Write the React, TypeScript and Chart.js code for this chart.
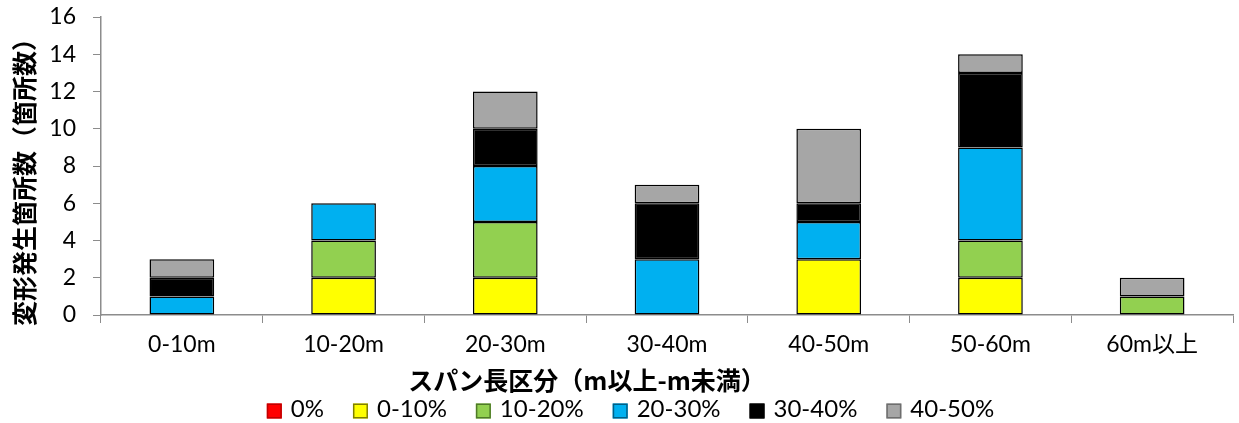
import React, { useEffect, useRef } from "react";
import { Chart, registerables } from "chart.js";

Chart.register(...registerables);

const categories = ["0-10m", "10-20m", "20-30m", "30-40m", "40-50m", "50-60m", "60m以上"];
const seriesNames = ["0%", "0-10%", "10-20%", "20-30%", "30-40%", "40-50%"];
const s0 = [0, 0, 0, 0, 0, 0, 0];
const s0to10 = [0, 2, 2, 0, 3, 2, 0];
const s10to20 = [0, 2, 3, 0, 0, 2, 1];
const s20to30 = [1, 2, 3, 3, 2, 5, 0];
const s30to40 = [1, 0, 2, 3, 1, 4, 0];
const s40to50 = [1, 0, 2, 1, 4, 1, 1];
const seriesColors = ["#FF0000", "#FFFF00", "#92D050", "#00B0F0", "#000000", "#A6A6A6"];
const legendBorders = ["#C00000", "#7F7F00", "#4F7A28", "#005F86", "#000000", "#6E6E6E"];
const yTitle = "変形発生箇所数（箇所数）";
const xTitle = "スパン長区分（m以上-m未満）";

const W = 1239;
const H = 423;
const FONT = 'Lato, "Noto Sans CJK JP", sans-serif';
const CJK = '"Noto Sans CJK JP", sans-serif';

const titlesAndLegend = {
  id: "titlesAndLegend",
  afterDraw(chart: any) {
    const ctx = chart.ctx as CanvasRenderingContext2D;
    const area = chart.chartArea;
    ctx.save();
    ctx.fillStyle = "#000";

    // Y axis title (rotated)
    ctx.font = `bold 25px ${CJK}`;
    ctx.textAlign = "center";
    ctx.textBaseline = "middle";
    ctx.save();
    ctx.translate(24, (area.top + area.bottom) / 2 + 10);
    ctx.rotate(-Math.PI / 2);
    ctx.fillText(yTitle, 0, 0);
    ctx.restore();

    // X axis title
    ctx.font = `bold 25px ${CJK}`;
    ctx.fillText(xTitle, (area.left + area.right) / 2 - 80, 380);

    // Legend
    ctx.font = `24px ${FONT}`;
    ctx.textAlign = "left";
    const box = 15;
    const gapBoxText = 9;
    const gapItems = 29;
    const widths = chart.data.datasets.map((d: any) => box + gapBoxText + ctx.measureText(d.label).width);
    const total = widths.reduce((a: number, b: number) => a + b, 0) + gapItems * (widths.length - 1);
    let x = W / 2 + 11 - total / 2;
    const cy = 411;
    chart.data.datasets.forEach((d: any, i: number) => {
      ctx.fillStyle = d.backgroundColor;
      ctx.fillRect(x, cy - box / 2, box, box);
      ctx.strokeStyle = legendBorders[i];
      ctx.lineWidth = 1.5;
      ctx.strokeRect(x + 0.75, cy - box / 2 + 0.75, box - 1.5, box - 1.5);
      ctx.fillStyle = "#000";
      ctx.fillText(d.label, x + box + gapBoxText, cy - 2);
      x += widths[i] + gapItems;
    });
    ctx.restore();
  },
};

export default function App() {
  const canvasRef = useRef<HTMLCanvasElement>(null);

  useEffect(() => {
    const values = [s0, s0to10, s10to20, s20to30, s30to40, s40to50];
    const chart = new Chart(canvasRef.current!, {
      type: "bar",
      data: {
        labels: categories,
        datasets: seriesNames.map((name, i) => ({
          label: name,
          data: values[i],
          backgroundColor: seriesColors[i],
          borderColor: "#000000",
          borderWidth: 1.5,
          borderSkipped: false,
          categoryPercentage: 1,
          barPercentage: 0.4,
        })),
      },
      options: {
        responsive: false,
        animation: false,
        layout: { padding: { top: 17, right: 6, left: 0, bottom: 68 } },
        plugins: {
          legend: { display: false },
          tooltip: { enabled: false },
          title: { display: false },
        },
        scales: {
          x: {
            stacked: true,
            grid: {
              offset: true,
              drawOnChartArea: false,
              color: "#8C8C8C",
              tickLength: 8,
            },
            border: { color: "#8C8C8C", width: 1.5 },
            ticks: {
              color: "#000",
              font: { family: FONT, size: 23 },
              padding: 8,
              maxRotation: 0,
            },
            afterFit(scale: any) {
              scale.height = 40;
              scale.paddingLeft = 0;
              scale.paddingRight = 0;
            },
          },
          y: {
            stacked: true,
            min: 0,
            max: 16,
            grid: {
              drawOnChartArea: false,
              color: "#8C8C8C",
              tickLength: 8,
            },
            border: { color: "#8C8C8C", width: 1.5 },
            ticks: {
              stepSize: 2,
              color: "#000",
              font: { family: FONT, size: 23 },
              padding: 17,
            },
            afterFit(scale: any) {
              scale.width = 101;
              scale.paddingTop = 0;
              scale.paddingBottom = 0;
            },
          },
        },
      },
      plugins: [titlesAndLegend],
    });
    return () => chart.destroy();
  }, []);

  return (
    <div style={{ position: "fixed", left: 0, top: 0, width: W, height: H, background: "#fff" }}>
      <canvas ref={canvasRef} width={W} height={H} style={{ display: "block" }} />
    </div>
  );
}
